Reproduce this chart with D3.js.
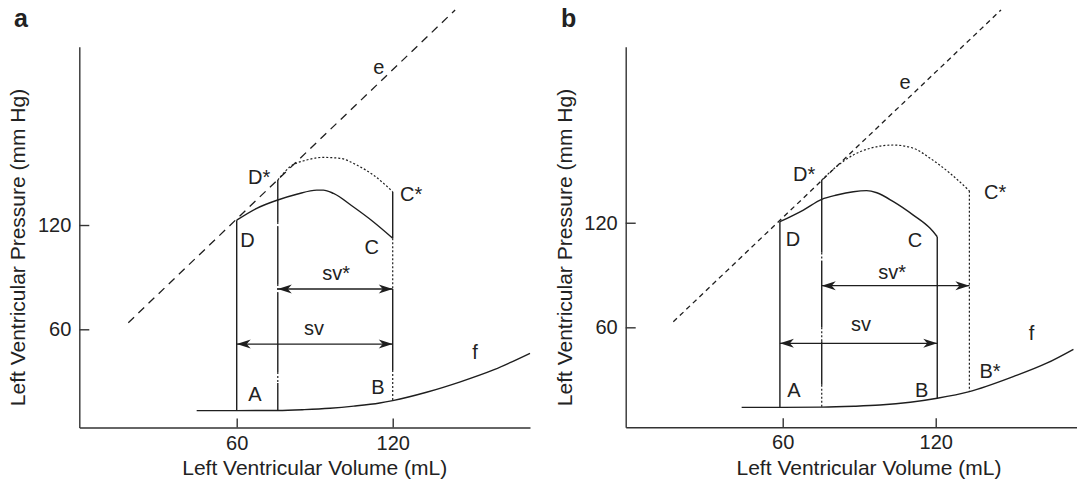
<!DOCTYPE html>
<html lang="en">
<head>
  <meta charset="UTF-8">
  <title>Pressure-volume loops</title>
  <script src="https://d3js.org/d3.v7.min.js"></script>
  <style>
    body { margin: 0; background: #fff; }
    svg text { font-family: "Liberation Sans", Arial, sans-serif; fill: #222; }
    .axis path, .axis line { stroke: #333; stroke-width: 1.4; }
    .axis text { font-size: 20px; }
    .curve { fill: none; stroke: #1e1e1e; stroke-width: 1.4; }
    .dotted { fill: none; stroke: #1e1e1e; stroke-width: 1.2; stroke-dasharray: 2 2; }
    .espvr { fill: none; stroke: #1e1e1e; stroke-width: 1.3; }
    .lbl { font-size: 20px; }
    .title { font-size: 21px; }
  </style>
</head>
<body>
<svg id="chart" width="1077" height="484"></svg>
<script>
  // ---- data (volume in mL, pressure in mm Hg) ----
  const xTicks = [60, 120];
  const yTicks = [60, 120];

  // panel a
  const espvrA = [[18.3, 63.8], [144, 243.7]];
  const edpvrA = [[44.6, 13.2], [60, 13.2], [75.8, 13.3], [86, 13.8], [95.9, 14.6], [105, 15.8],
                  [115, 17.6], [120, 19.0], [133, 23.8], [146, 29.8], [159, 36.8], [172.8, 46.2]];
  const ejectionA = [[60, 122.8], [67.7, 129.6], [75.8, 134.4], [83.1, 137.7], [90.8, 140.1], [93.3, 140.1],
                     [97.2, 138.2], [104.8, 130.5], [112.5, 121.9], [120, 112.4]];
  const ejectionStarA = [[75.8, 145.9], [80.5, 153.5], [86.9, 157.4], [93.3, 158.9], [99.7, 158.4],
                         [106.2, 154.5], [112.5, 148.8], [120, 139.2]];
  const svA = { from: 60, to: 120, p: 51.5 };
  const svStarA = { from: 75.8, to: 120, p: 83.2 };

  // panel b
  const espvrB = [[17.1, 63.2], [145.6, 242.1]];
  const edpvrB = [[43.9, 14.1], [60, 14.1], [75.3, 14.2], [88, 14.7], [98.1, 15.4], [110, 17],
                  [120.6, 19.3], [133.2, 23.1], [150.4, 31.7], [163.5, 39.4], [174, 47.4]];
  const ejectionB = [[58.9, 120.6], [68.1, 127.3], [75.3, 133.4], [81.2, 135.9], [87.7, 137.8], [92.9, 138.4],
                     [96.9, 137.2], [103.4, 132.1], [111.2, 124.4], [117.8, 116.8], [120.6, 112]];
  const ejectionStarB = [[75.3, 144.5], [81.1, 152.2], [87.7, 158.9], [94.3, 162.7], [103.4, 164.6],
                         [111.3, 162.7], [117.8, 157], [125.6, 148.4], [133.2, 138.3]];
  const svB = { from: 58.9, to: 120.6, p: 50.8 };
  const svStarB = { from: 75.3, to: 133.2, p: 83.9 };

  // point labels [text, volume, pressure]
  const labelsA = [["e", 114.7, 211.1], ["D*", 68.6, 147.8], ["C*", 127.1, 138.2], ["D", 64.1, 111.4],
                   ["C", 111.9, 107.5], ["sv*", 98.2, 92.4], ["sv", 89.7, 61], ["A", 67, 22.8],
                   ["B", 114.3, 26.8], ["f", 151.7, 47.1]];
  const labelsB = [["e", 108, 200.9], ["D*", 68.4, 147.9], ["C*", 143.3, 137.8], ["D", 64, 110.7],
                   ["C", 111.9, 110.1], ["sv*", 102.9, 91.9], ["sv", 90.7, 62.3], ["A", 64.4, 24],
                   ["B", 114.5, 24], ["B*", 141.3, 35.1], ["f", 157.6, 56.9]];

  const svg = d3.select("#chart");

  // arrow head
  svg.append("defs").append("marker")
    .attr("id", "head")
    .attr("markerUnits", "userSpaceOnUse")
    .attr("viewBox", "-15 -6 16 12")
    .attr("refX", 0).attr("refY", 0)
    .attr("markerWidth", 16).attr("markerHeight", 12)
    .attr("orient", "auto-start-reverse")
    .append("path")
    .attr("d", "M0,0 L-14,-4.5 L-10,0 L-14,4.5 Z")
    .attr("fill", "#1e1e1e");

  function drawPanel(p) {
    const x = d3.scaleLinear().domain(p.xDomain).range(p.xRange);
    const y = d3.scaleLinear().domain(p.yDomain).range(p.yRange);
    const g = svg.append("g");
    const line = d3.line().x(d => x(d[0])).y(d => y(d[1]));
    const smooth = d3.line().x(d => x(d[0])).y(d => y(d[1])).curve(d3.curveMonotoneX);

    // axes, ticks point inward
    g.append("g").attr("class", "axis")
      .attr("transform", `translate(0,${p.yRange[0]})`)
      .call(d3.axisBottom(x).tickValues(xTicks).tickSizeInner(-9).tickSizeOuter(0).tickPadding(8));
    g.append("g").attr("class", "axis")
      .attr("transform", `translate(${p.xRange[0]},0)`)
      .call(d3.axisLeft(y).tickValues(yTicks).tickSizeInner(-10).tickSizeOuter(0).tickPadding(8));
    g.selectAll(".axis text").attr("fill", "#222").style("font-family", "'Liberation Sans', Arial, sans-serif");

    // end-systolic line e
    g.append("path").attr("class", "espvr").attr("d", line(p.espvr))
      .attr("stroke-dasharray", p.eDash);
    // end-diastolic curve f
    g.append("path").attr("class", "curve").attr("d", smooth(p.edpvr));
    // loops
    g.append("path").attr("class", "curve").attr("d", smooth(p.ejection));
    g.append("path").attr("class", "dotted").attr("d", smooth(p.ejectionStar));

    // vertical (isovolumic) segments: [volume, p0, p1, style]
    p.verticals.forEach(v => {
      g.append("line")
        .attr("class", v[3] === "dot" ? "dotted" : "curve")
        .attr("x1", x(v[0])).attr("x2", x(v[0]))
        .attr("y1", y(v[1])).attr("y2", y(v[2]));
    });

    // stroke volume arrows
    [p.sv, p.svStar].forEach(s => {
      g.append("line").attr("class", "curve")
        .attr("x1", x(s.from)).attr("x2", x(s.to))
        .attr("y1", y(s.p)).attr("y2", y(s.p))
        .attr("marker-start", "url(#head)").attr("marker-end", "url(#head)");
    });

    g.selectAll(".lbl").data(p.labels).enter().append("text")
      .attr("class", "lbl")
      .attr("x", d => x(d[1])).attr("y", d => y(d[2]))
      .attr("text-anchor", "middle").attr("dy", "0.36em")
      .text(d => d[0]);

    g.append("text").attr("class", "title")
      .attr("x", p.xTitle[0]).attr("y", p.xTitle[1])
      .attr("text-anchor", "middle").text("Left Ventricular Volume (mL)");
    g.append("text").attr("class", "title")
      .attr("transform", `translate(${p.yTitle[0]},${p.yTitle[1]}) rotate(-90)`)
      .attr("text-anchor", "middle").text("Left Ventricular Pressure (mm Hg)");
    g.append("text").attr("x", p.tag[0]).attr("y", p.tag[1])
      .style("font-size", "25px").style("font-weight", "bold").text(p.tag[2]);
  }

  drawPanel({
    xDomain: [-0.54, 172.8], xRange: [79.3, 530],
    yDomain: [3.5, 222.6], yRange: [427.5, 46.7],
    espvr: espvrA, edpvr: edpvrA, ejection: ejectionA, ejectionStar: ejectionStarA,
    sv: svA, svStar: svStarA, labels: labelsA, eDash: "8 6",
    verticals: [
      [60, 13.2, 122.8, "solid"],
      [75.8, 145.9, 121.7, "solid"], [75.8, 121.7, 118.8, "dot"], [75.8, 118.8, 86.1, "solid"],
      [75.8, 86.1, 80.9, "dot"], [75.8, 80.9, 35.4, "solid"], [75.8, 35.4, 29.1, "dot"], [75.8, 29.1, 13.3, "solid"],
      [120, 139.2, 112.4, "solid"], [120, 112.4, 83.2, "dot"], [120, 83.2, 36.6, "solid"], [120, 36.6, 19.0, "dot"]
    ],
    xTitle: [314.7, 475], yTitle: [25, 247.5], tag: [14, 27, "a"]
  });

  drawPanel({
    xDomain: [-1.57, 175.4], xRange: [625.7, 1077],
    yDomain: [2.7, 221], yRange: [427.2, 46.7],
    espvr: espvrB, edpvr: edpvrB, ejection: ejectionB, ejectionStar: ejectionStarB,
    sv: svB, svStar: svStarB, labels: labelsB, eDash: "5 4",
    verticals: [
      [58.9, 14.1, 120.6, "solid"],
      [75.3, 144.5, 103, "solid"], [75.3, 103, 98, "dot"], [75.3, 98, 60, "solid"],
      [75.3, 60, 52, "dot"], [75.3, 52, 27, "solid"], [75.3, 27, 14.2, "dot"],
      [120.6, 112, 19.3, "solid"],
      [133.2, 138.3, 23.1, "dot"]
    ],
    xTitle: [869, 475], yTitle: [572, 247.5], tag: [561, 27, "b"]
  });
</script>
</body>
</html>
